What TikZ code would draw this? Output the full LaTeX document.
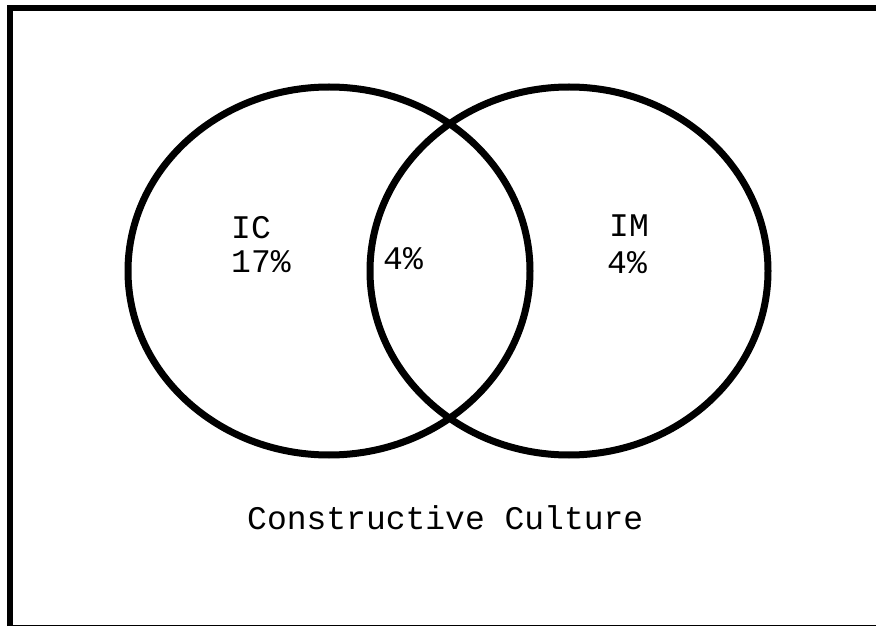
\documentclass[tikz,border=0pt]{standalone}
\usepackage{fontspec}
\setmonofont{Liberation Mono}
\usetikzlibrary{positioning}

\begin{document}
\begin{tikzpicture}[x=1pt, y=-1pt, ring/.style={line width=7pt},
  lbl/.style={font=\ttfamily\fontsize{33}{34}\selectfont, inner sep=0pt, anchor=base west}]
  \useasboundingbox (0,0) rectangle (876,628);
  % frame
  \draw[line width=6pt] (10,626) -- (10,8) -- (876,8);
  \draw[line width=1.5pt] (10,625.5) -- (876,625.5);
  % the two sets
  \coordinate (lc) at (329,271);
  \coordinate (rc) at (569,271);
  \draw[ring] (lc) ellipse [x radius=201pt, y radius=184pt];
  \draw[ring] (rc) ellipse [x radius=199pt, y radius=184pt];
  % labels
  \node[lbl] (ic) at (231,239) {IC};
  \node[lbl] (icv) at (231,273) {17\%};
  \node[lbl] (both) at (383,270) {4\%};
  \node[lbl] (im) at (609,237) {IM};
  \node[lbl] (imv) at (607,274) {4\%};
  \node[lbl] (cc) at (247,529) {Constructive Culture};
\end{tikzpicture}
\end{document}
